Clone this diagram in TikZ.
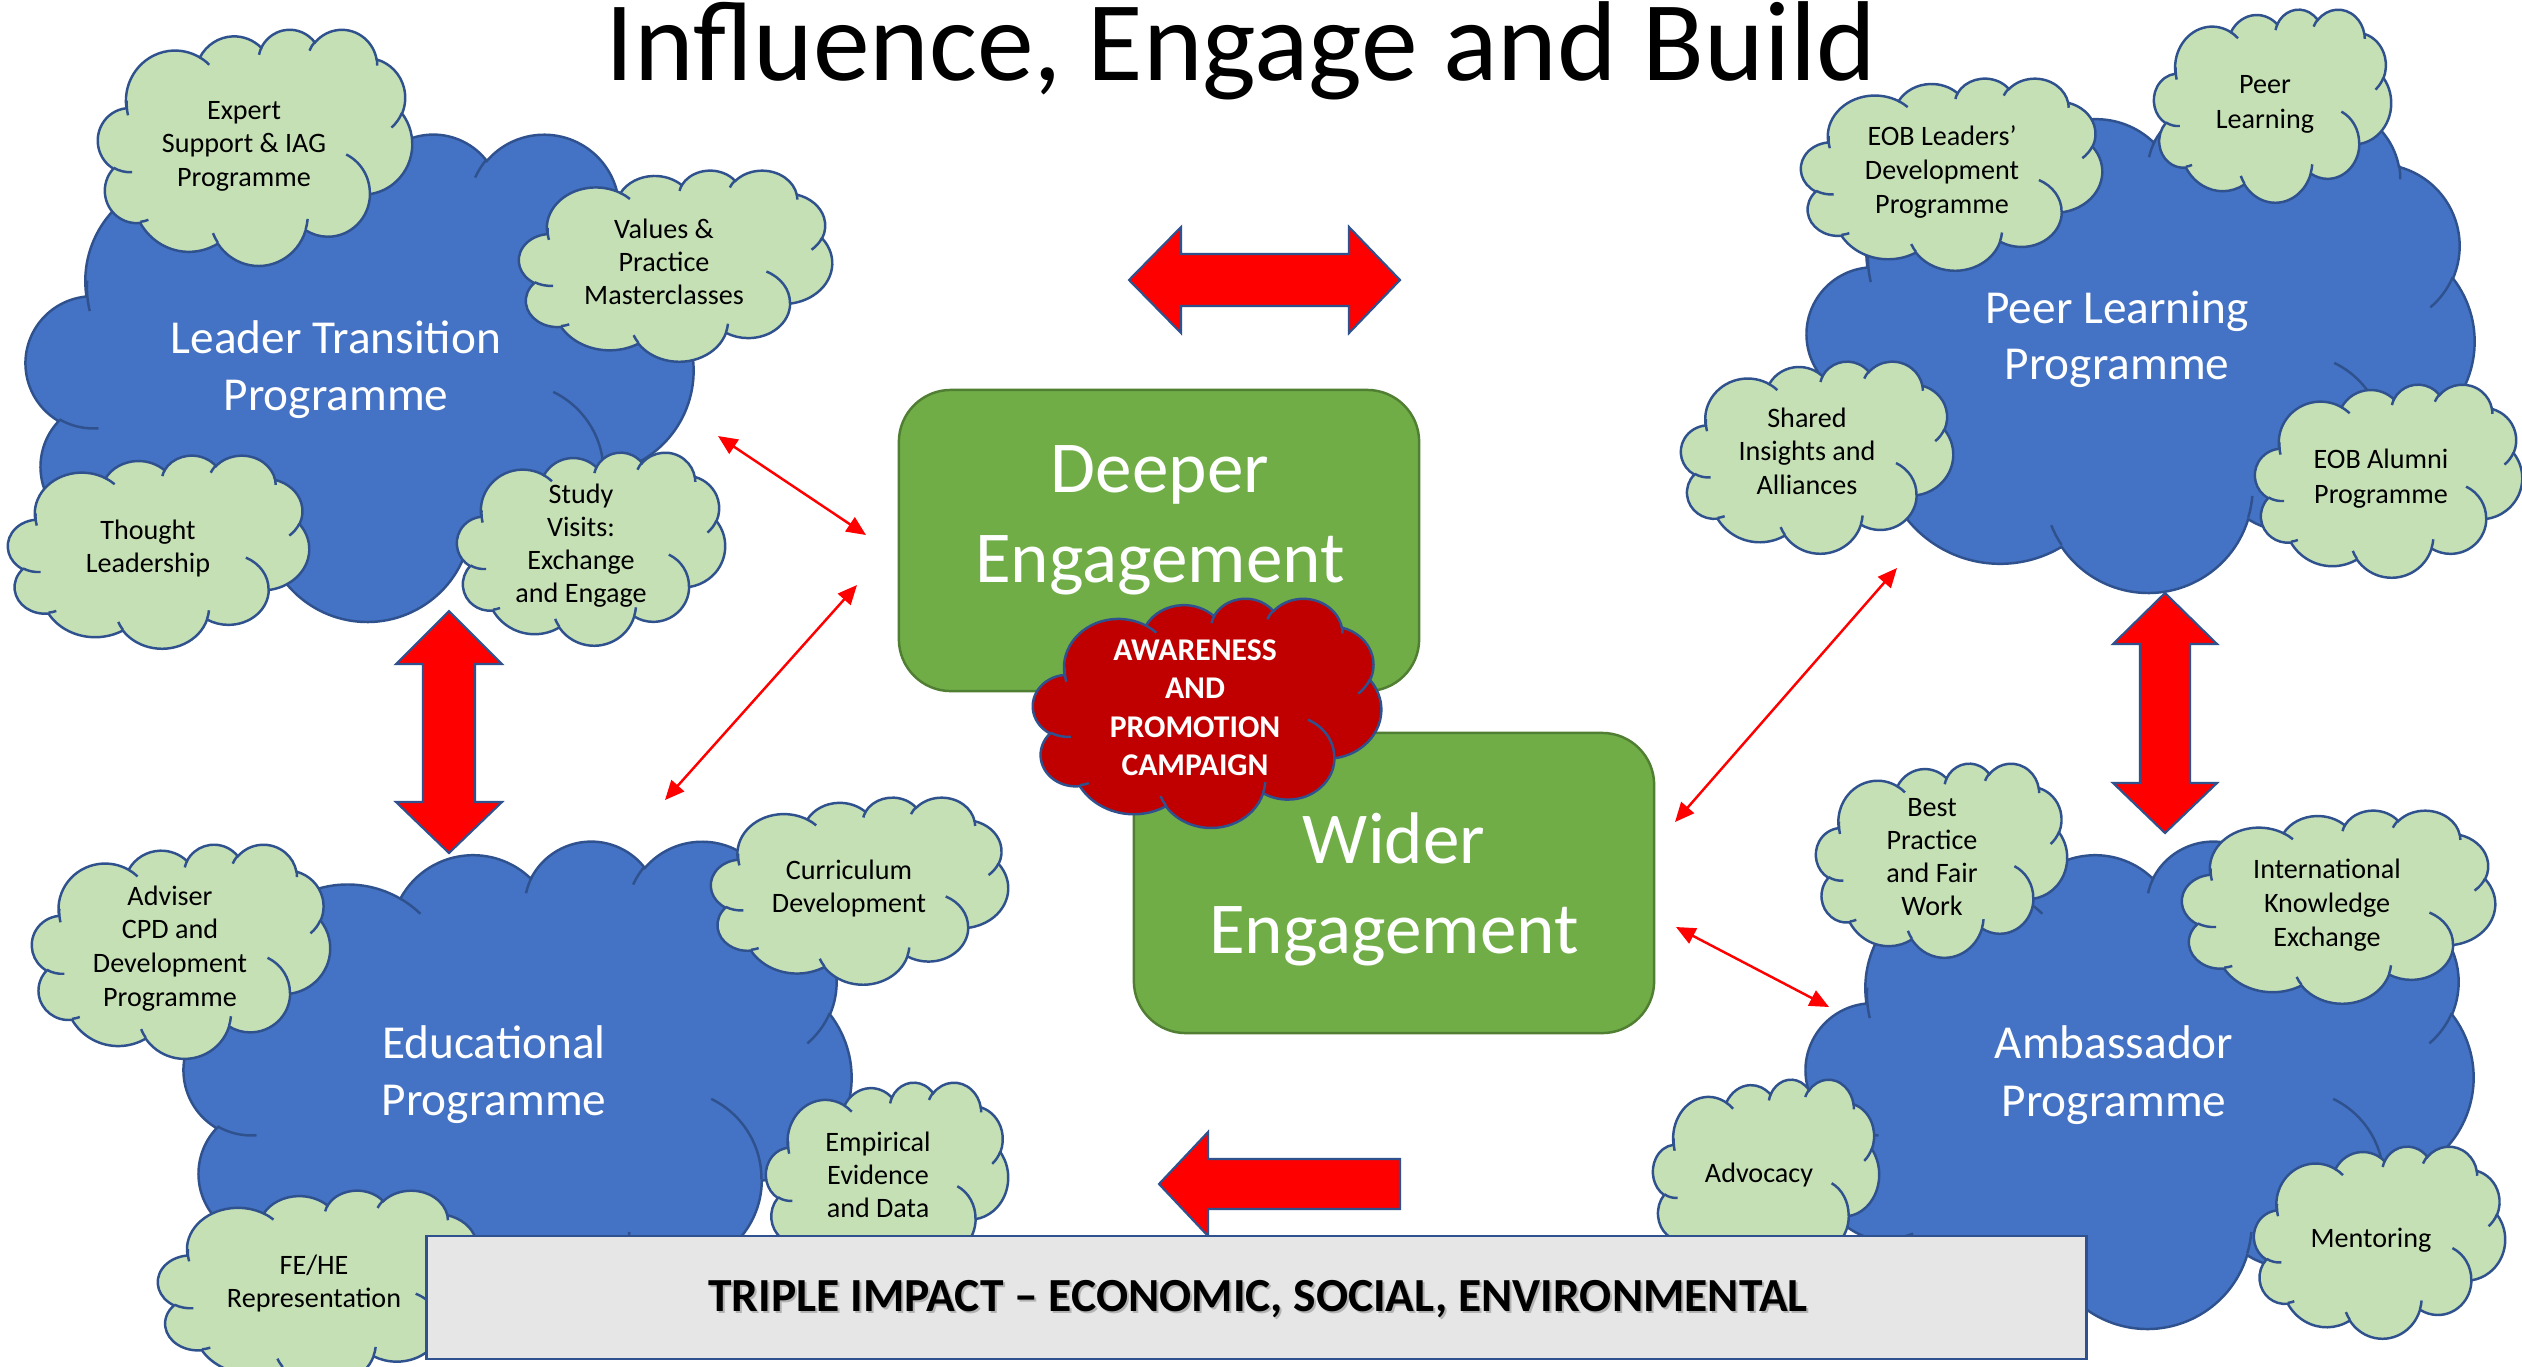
\documentclass[tikz,border=0pt]{standalone}
\usepackage{fontspec}
\setmainfont{Carlito}
\usetikzlibrary{arrows.meta}
\definecolor{cblue}{HTML}{4472C4}
\definecolor{cline}{HTML}{2F528F}
\definecolor{cgreen}{HTML}{C5E0B4}
\definecolor{cred}{HTML}{C00000}
\definecolor{bgreen}{HTML}{70AD47}
\definecolor{bgreenline}{HTML}{507E32}
\definecolor{cgray}{HTML}{E7E6E6}
\definecolor{purered}{HTML}{FF0000}
\newcommand{\oa}[4]{arc[x radius=#1,y radius=#2,start angle={vp(#3,#1,#2)},end angle={vp(#4,#1,#2)}]}
\newcommand{\cloudoutline}{(3.9,14.37)
 \oa{6.753}{9.19}{-190.4875}{-66.707}
 \oa{5.333}{7.267}{-144.1024}{-54.1572}
 \oa{4.365}{5.945}{-145.8079}{-46.0849}
 \oa{4.857}{6.595}{-130.9861}{-13.7443}
 \oa{5.333}{7.273}{-78.7089}{30.318}
 \oa{6.775}{9.22}{-46.2673}{84.0017}
 \oa{5.785}{7.867}{0.625}{114.6583}
 \oa{6.752}{9.215}{22.4516}{137.6242}
 \oa{7.72}{10.543}{66.2426}{141.9536}
 \oa{4.36}{5.918}{-274.9421}{-128.2065}
 \oa{4.345}{5.945}{-246.8285}{-94.3096} -- cycle}
\newcommand{\cloudinner}{(4.693,26.177) \oa{4.345}{5.945}{86.742}{113.1715}
 (6.928,34.899) \oa{4.36}{5.918}{73.6105}{85.0579}
 (16.478,39.09) \oa{6.752}{9.215}{137.6242}{151.7053}
 (28.827,34.751) \oa{6.752}{9.215}{6.4533}{22.4516}
 (34.129,22.954) \oa{5.785}{7.867}{-70.2924}{0.625}
 (41.798,15.354) \oa{5.333}{7.273}{30.318}{58.0695}
 (38.324,5.426) \oa{4.857}{6.595}{-13.7443}{1.1146}
 (29.078,3.952) \oa{4.857}{6.595}{-149.1815}{-130.9861}
 (22.141,4.72) \oa{4.365}{5.945}{-163.4943}{-145.8079}
 (14.0,5.192) \oa{6.753}{9.19}{-66.707}{-54.3876}
 (4.127,15.789) \oa{6.753}{9.19}{162.0371}{184.9057}}
\newcommand{\ocloud}[5]{%
 \begin{scope}[shift={(#1*0.01cm,-#2*0.01cm)},x=1cm,y=1cm,xscale=#3/4320,yscale=-#4/4320]
  \path[#5] \cloudoutline;
  \draw[#5,fill=none] \cloudinner;
 \end{scope}}
\newcommand{\tlines}[6]{%
 \foreach \myline [count=\cnt] in {#6} {
   \node[#5,anchor=base] (#1\cnt) at (#2,{#3+(\cnt-1)*#4}) {\myline};
 }}
\tikzset{
  bigcloud/.style={fill=cblue,draw=cline,line width=0.7pt},
  smallcloud/.style={fill=cgreen,draw=cline,line width=0.7pt},
  redcloud/.style={fill=cred,draw=cline,line width=0.7pt},
  gtext/.style={font=\fontsize{8}{9.6}\selectfont,text=black,inner sep=0pt},
  btext/.style={font=\fontsize{13.45}{16}\selectfont,text=white,inner sep=0pt},
  etext/.style={font=\fontsize{20.8}{25}\selectfont,text=white,inner sep=0pt},
  rtext/.style={font=\fontsize{9}{11}\selectfont\bfseries,text=white,inner sep=0pt},
  ttext/.style={font=\fontsize{13.5}{16}\selectfont\bfseries,text=black,inner sep=0pt},
  titletext/.style={font=\fontsize{32.3}{39}\selectfont,text=black,inner sep=0pt},
  engbox/.style={fill=bgreen,draw=bgreenline,line width=0.7pt,rounded corners=0.52cm,inner sep=0pt},
  impactbox/.style={fill=cgray,draw=cline,line width=0.8pt,inner sep=0pt},
  blockarrow/.style={fill=purered,draw=cline,line width=0.6pt,line join=miter},
  thinarrow/.style={draw=purered,line width=0.7pt,arrows={Triangle[length=5.5pt,width=4.8pt]-Triangle[length=5.5pt,width=4.8pt]}},
}
\begin{document}
\begin{tikzpicture}[x=0.01cm,y=-0.01cm,
  declare function={vp(\p,\q,\r)=(\p)+Mod(atan2((\q)*sin(\p),(\r)*cos(\p))-(\p)+180,360)-180;}]
\useasboundingbox (0,0) rectangle (2522,1366);
\fill[white] (0,0) rectangle (2522,1366);

% big programme clouds
\ocloud{26}{133}{667}{487}{bigcloud}
\ocloud{1807}{104}{667}{487}{bigcloud}
\ocloud{184}{840}{667}{487}{bigcloud}
\ocloud{1806}{840}{667}{487}{bigcloud}
\tlines{lt}{336}{353}{57}{btext}{Leader Transition, Programme}
\tlines{pl}{2117}{323}{56}{btext}{Peer Learning, Programme}
\tlines{ed}{494}{1058}{57}{btext}{Educational, Programme}
\tlines{am}{2114}{1058}{58}{btext}{Ambassador, Programme}

% small clouds
\ocloud{98}{29}{314}{236}{smallcloud}
\ocloud{519}{170}{313}{191}{smallcloud}
\ocloud{8}{455}{301}{193}{smallcloud}
\ocloud{457}{452}{268}{193}{smallcloud}
\ocloud{1801}{78}{301}{192}{smallcloud}
\ocloud{2154}{9}{237}{193}{smallcloud}
\ocloud{1681}{361}{272}{192}{smallcloud}
\ocloud{2255}{384}{267}{193}{smallcloud}
\ocloud{32}{844}{298}{214}{smallcloud}
\ocloud{711}{797}{297}{187}{smallcloud}
\ocloud{766}{1082}{242}{196}{smallcloud}
\ocloud{158}{1190}{326}{195}{smallcloud}
\ocloud{1816}{763}{251}{194}{smallcloud}
\ocloud{2182}{810}{313}{193}{smallcloud}
\ocloud{1653}{1079}{226}{196}{smallcloud}
\ocloud{2254}{1146}{251}{192}{smallcloud}
\tlines{ex}{244}{119}{33.5}{gtext}{Expert, Support \& IAG, Programme}
\tlines{va}{664}{238}{33}{gtext}{Values \&, Practice, Masterclasses}
\tlines{th}{148}{539}{33}{gtext}{Thought, Leadership}
\tlines{st}{581}{503}{33.3}{gtext}{Study, Visits:, Exchange, and Engage}
\tlines{eo}{1942}{145}{34}{gtext}{EOB Leaders’, Development, Programme}
\tlines{pe}{2265}{93}{35}{gtext}{Peer, Learning}
\tlines{sh}{1807}{427}{33.5}{gtext}{Shared, Insights and, Alliances}
\tlines{al}{2381}{468}{35}{gtext}{EOB Alumni, Programme}
\tlines{ad}{170}{905}{33.7}{gtext}{Adviser, CPD and, Development, Programme}
\tlines{cu}{849}{879}{33}{gtext}{Curriculum, Development}
\tlines{em}{878}{1151}{33}{gtext}{Empirical, Evidence, and Data}
\tlines{fe}{314}{1274}{33}{gtext}{FE/HE, Representation}
\tlines{be}{1932}{816}{33}{gtext}{Best, Practice, and Fair, Work}
\tlines{in}{2327}{878}{34}{gtext}{International, Knowledge, Exchange}
\tlines{av}{1759}{1182}{33}{gtext}{Advocacy}
\tlines{me}{2371}{1247}{33}{gtext}{Mentoring}

% block arrows
\path[blockarrow] (1129,280) -- (1181,227) -- (1181,254) -- (1349,254) -- (1349,227) -- (1400,280)
  -- (1349,333) -- (1349,306) -- (1181,306) -- (1181,333) -- cycle;
\path[blockarrow] (449,611) -- (502,664) -- (475,664) -- (475,802) -- (502,802) -- (449,853)
  -- (396,802) -- (423,802) -- (423,664) -- (396,664) -- cycle;
\path[blockarrow] (2165,593) -- (2217,644) -- (2190,644) -- (2190,783) -- (2217,783) -- (2165,833)
  -- (2113,783) -- (2140,783) -- (2140,644) -- (2113,644) -- cycle;
\path[blockarrow] (1159,1184) -- (1208,1132) -- (1208,1159) -- (1400,1159) -- (1400,1209)
  -- (1208,1209) -- (1208,1236) -- cycle;

% thin connectors
\coordinate (a1s) at (718,436);  \coordinate (a1e) at (866,535);
\coordinate (a2s) at (857,585);  \coordinate (a2e) at (665,800);
\coordinate (a3s) at (1897,568); \coordinate (a3e) at (1675,822);
\coordinate (a4s) at (1676,927); \coordinate (a4e) at (1829,1007);
\draw[thinarrow] (a1s) -- (a1e);
\draw[thinarrow] (a2s) -- (a2e);
\draw[thinarrow] (a3s) -- (a3e);
\draw[thinarrow] (a4s) -- (a4e);

% engagement boxes
\node[engbox,minimum width=5.2cm,minimum height=3.01cm] (deeper) at (1159,540.5) {};
\node[engbox,minimum width=5.2cm,minimum height=3.0cm] (wider) at (1394,883) {};
\tlines{de}{1160}{492}{90}{etext}{Deeper, Engagement}
\tlines{wi}{1394}{863}{90}{etext}{Wider, Engagement}

% awareness cloud
\ocloud{1033}{598}{348}{229}{redcloud}
\tlines{aw}{1195}{660}{38.5}{rtext}{AWARENESS, AND, PROMOTION, CAMPAIGN}

% impact bar
\node[impactbox,minimum width=16.59cm,minimum height=1.23cm] (impact) at (1256.5,1297.5) {};
\node[ttext,text=black!30,anchor=base] (impactshadow) at (1260,1313) {TRIPLE IMPACT – ECONOMIC, SOCIAL, ENVIRONMENTAL};
\node[ttext,anchor=base] (impacttext) at (1258,1311) {TRIPLE IMPACT – ECONOMIC, SOCIAL, ENVIRONMENTAL};

% title
\node[titletext,anchor=base] (title) at (1241,80) {Influence, Engage and Build};
\end{tikzpicture}
\end{document}
